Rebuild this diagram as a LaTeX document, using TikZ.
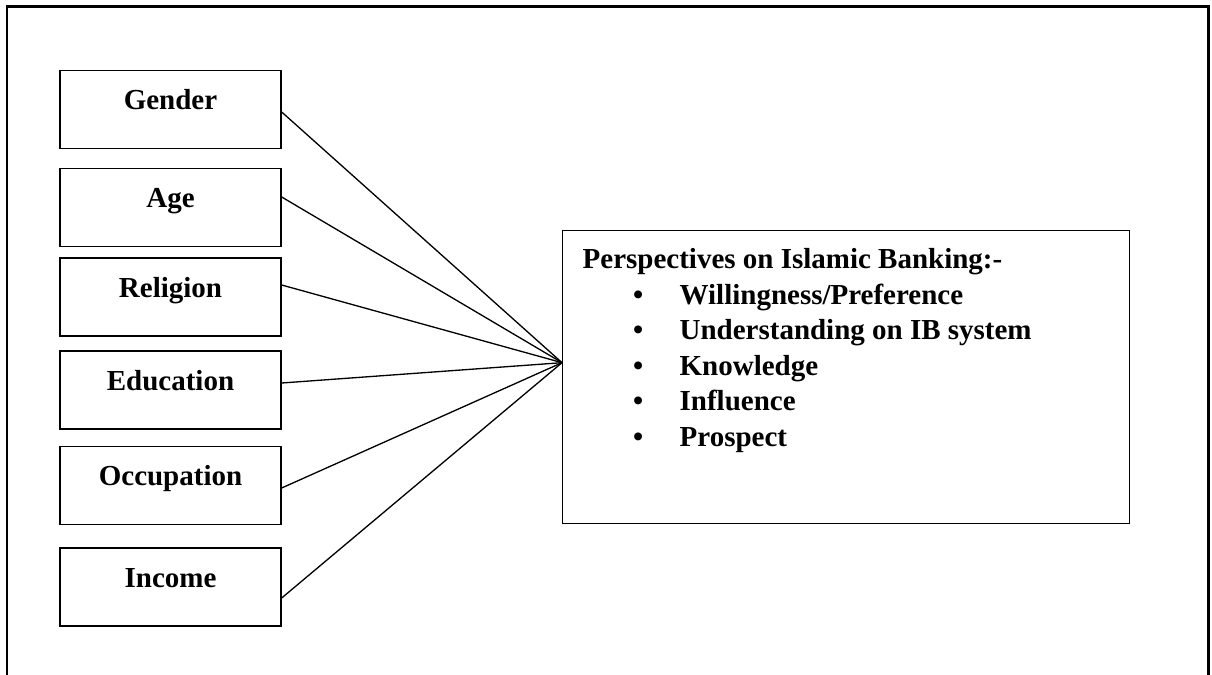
\documentclass[tikz,border=0pt]{standalone}
\usepackage{fontspec}
\setmainfont{Liberation Serif}
\usetikzlibrary{calc}

\begin{document}
\begin{tikzpicture}[x=0.02cm, y=-0.02cm,
  frame/.style={line width=1.2pt},
  factor/.style={draw, line width=0.8pt, minimum width=4.42cm, minimum height=1.56cm, inner sep=0pt,
    text height=0.3cm, text depth=0.3cm, font=\fontsize{16.5}{20.2}\selectfont\bfseries},
  view/.style={draw, line width=0.8pt, anchor=north west, inner sep=0pt, font=\fontsize{16.5}{20.2}\selectfont\bfseries},
  link/.style={line width=0.75pt}
]
\useasboundingbox (0,0) rectangle (1212,675);
\draw[frame] (7,675) -- (7,6.5) -- (1208.5,6.5) -- (1208.5,675);
\node[factor] (g) at (170.5,109.5) {Gender};
\node[factor] (a) at (170.5,207.5) {Age};
\node[factor] (r) at (170.5,297) {Religion};
\node[factor] (e) at (170.5,390) {Education};
\node[factor] (o) at (170.5,485.5) {Occupation};
\node[factor] (i) at (170.5,587) {Income};
\node[view] (p) at (562,230) {\begin{minipage}[t][5.86cm][t]{11.34cm}
\hspace*{0.4cm}\rule{0pt}{0.76cm}Perspectives on Islamic Banking:-\\
\hspace*{1.41cm}\makebox[0.93cm][l]{\textbullet}Willingness/Preference\\
\hspace*{1.41cm}\makebox[0.93cm][l]{\textbullet}Understanding on IB system\\
\hspace*{1.41cm}\makebox[0.93cm][l]{\textbullet}Knowledge\\
\hspace*{1.41cm}\makebox[0.93cm][l]{\textbullet}Influence\\
\hspace*{1.41cm}\makebox[0.93cm][l]{\textbullet}Prospect
\end{minipage}};
\coordinate (hub) at ($(p.west)+(0,-14.5)$);
\foreach \n/\dy in {g/2.5, a/-10.5, r/-12, e/-7, o/2.5, i/11}
  \draw[link] ($(\n.east)+(0,\dy)$) -- (hub);
\end{tikzpicture}
\end{document}
